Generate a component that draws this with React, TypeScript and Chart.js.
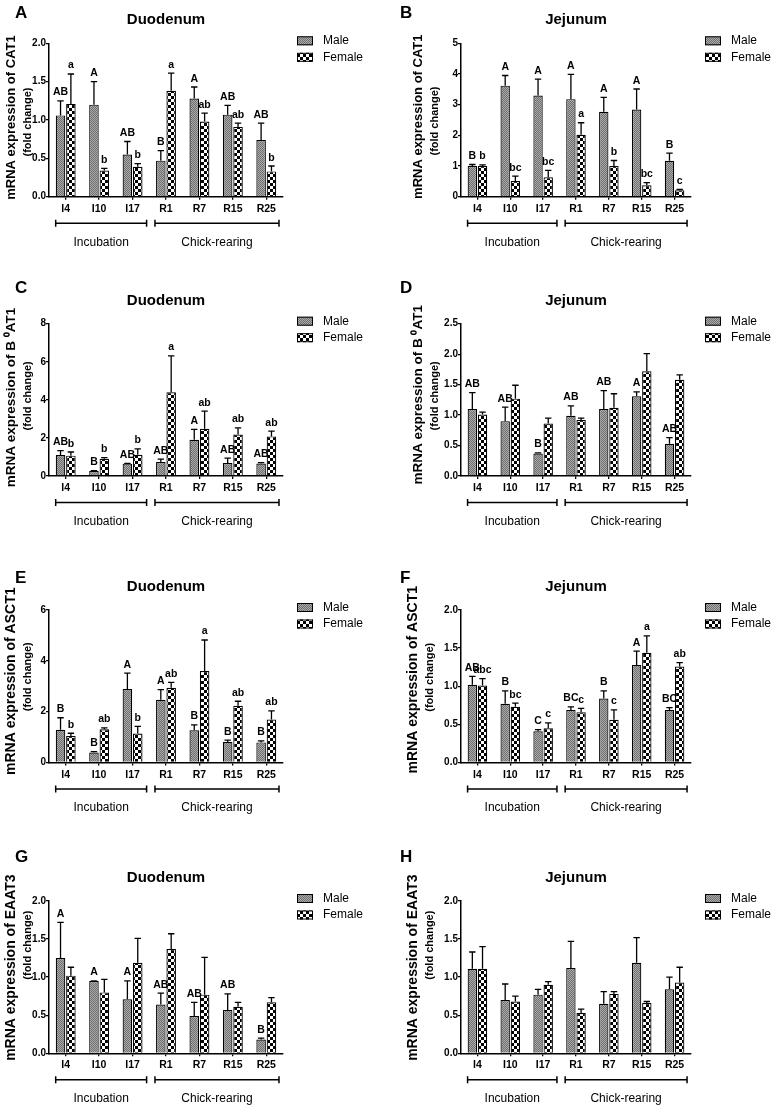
import React, { useEffect, useRef } from "react";
import { Chart, registerables } from "chart.js";

Chart.register(...registerables);

const FONT = '"Liberation Sans", Arial, Helvetica, sans-serif';

// ---------- categories / labels ----------
const categories = ["I4", "I10", "I17", "R1", "R7", "R15", "R25"];
const seriesNames = ["Male", "Female"];
const groupNames = ["Incubation", "Chick-rearing"];
const groupStart = [0, 3];
const groupEnd = [2, 6];

const panelLetters = ["A", "B", "C", "D", "E", "F", "G", "H"];
const panelTitles = ["Duodenum", "Jejunum", "Duodenum", "Jejunum", "Duodenum", "Jejunum", "Duodenum", "Jejunum"];
const yTitles = [
  "mRNA expression of CAT1",
  "mRNA expression of CAT1",
  "mRNA expression of B ⁰AT1",
  "mRNA expression of B ⁰AT1",
  "mRNA expression of ASCT1",
  "mRNA expression of ASCT1",
  "mRNA expression of EAAT3",
  "mRNA expression of EAAT3",
];
const yTitleLine2 = "(fold change)";
const yMaxes = [2, 5, 8, 2.5, 6, 2, 2, 2];
const ySteps = [0.5, 1, 2, 0.5, 2, 0.5, 0.5, 0.5];
const yDecimals = [1, 0, 0, 1, 0, 1, 1, 1];

// ---------- A: Duodenum CAT1 ----------
const aMale = [1.06, 1.2, 0.55, 0.47, 1.28, 1.07, 0.74];
const aMaleUpper = [1.25, 1.5, 0.72, 0.6, 1.43, 1.19, 0.96];
const aFemale = [1.21, 0.34, 0.39, 1.38, 0.98, 0.91, 0.33];
const aFemaleUpper = [1.6, 0.37, 0.43, 1.61, 1.09, 0.96, 0.4];
const aMaleLetters = ["AB", "A", "AB", "B", "A", "AB", "AB"];
const aFemaleLetters = ["a", "b", "b", "a", "ab", "ab", "b"];

// ---------- B: Jejunum CAT1 ----------
const bMale = [1.0, 3.62, 3.3, 3.18, 2.77, 2.84, 1.17];
const bMaleUpper = [1.05, 3.95, 3.83, 3.99, 3.24, 3.51, 1.42];
const bFemale = [1.0, 0.51, 0.63, 2.02, 1.0, 0.37, 0.21];
const bFemaleUpper = [1.04, 0.67, 0.86, 2.41, 1.18, 0.46, 0.24];
const bMaleLetters = ["B", "A", "A", "A", "A", "A", "B"];
const bFemaleLetters = ["b", "bc", "bc", "a", "b", "bc", "c"];

// ---------- C: Duodenum B0AT1 ----------
const cMale = [1.1, 0.26, 0.65, 0.73, 1.9, 0.68, 0.66];
const cMaleUpper = [1.33, 0.28, 0.66, 0.89, 2.45, 0.94, 0.7];
const cFemale = [1.07, 0.91, 1.12, 4.4, 2.48, 2.18, 2.08];
const cFemaleUpper = [1.26, 0.96, 1.43, 6.31, 3.41, 2.53, 2.36];
const cMaleLetters = ["AB", "B", "AB", "AB", "A", "AB", "AB"];
const cFemaleLetters = ["b", "b", "b", "a", "ab", "ab", "ab"];

// ---------- D: Jejunum B0AT1 ----------
const dMale = [1.1, 0.9, 0.37, 0.99, 1.1, 1.31, 0.53];
const dMaleUpper = [1.37, 1.13, 0.38, 1.15, 1.4, 1.38, 0.63];
const dFemale = [1.01, 1.27, 0.86, 0.92, 1.12, 1.72, 1.58];
const dFemaleUpper = [1.05, 1.49, 0.95, 0.95, 1.35, 2.01, 1.66];
const dMaleLetters = ["AB", "AB", "B", "AB", "AB", "A", "AB"];
const dFemaleLetters = ["", "", "", "", "", "", ""];

// ---------- E: Duodenum ASCT1 ----------
const eMale = [1.29, 0.39, 2.89, 2.47, 1.27, 0.81, 0.79];
const eMaleUpper = [1.76, 0.43, 3.52, 2.87, 1.48, 0.88, 0.85];
const eFemale = [1.04, 1.31, 1.14, 2.94, 3.6, 2.23, 1.69];
const eFemaleUpper = [1.15, 1.36, 1.42, 3.15, 4.82, 2.41, 2.03];
const eMaleLetters = ["B", "B", "A", "A", "B", "B", "B"];
const eFemaleLetters = ["b", "ab", "b", "ab", "a", "ab", "ab"];

// ---------- F: Jejunum ASCT1 ----------
const fMale = [1.02, 0.77, 0.41, 0.69, 0.84, 1.28, 0.69];
const fMaleUpper = [1.13, 0.94, 0.43, 0.73, 0.94, 1.46, 0.72];
const fFemale = [1.01, 0.73, 0.45, 0.66, 0.56, 1.44, 1.26];
const fFemaleUpper = [1.1, 0.78, 0.52, 0.71, 0.69, 1.66, 1.31];
const fMaleLetters = ["AB", "B", "C", "BC", "B", "A", "BC"];
const fFemaleLetters = ["abc", "bc", "c", "c", "c", "a", "ab"];

// ---------- G: Duodenum EAAT3 ----------
const gMale = [1.25, 0.95, 0.71, 0.64, 0.49, 0.57, 0.18];
const gMaleUpper = [1.72, 0.95, 0.95, 0.79, 0.67, 0.78, 0.2];
const gFemale = [1.02, 0.8, 1.19, 1.37, 0.77, 0.61, 0.67];
const gFemaleUpper = [1.13, 0.97, 1.51, 1.57, 1.26, 0.67, 0.73];
const gMaleLetters = ["A", "A", "A", "AB", "AB", "AB", "B"];
const gFemaleLetters = ["", "", "", "", "", "", ""];

// ---------- H: Jejunum EAAT3 ----------
const hMale = [1.11, 0.7, 0.77, 1.12, 0.65, 1.19, 0.84];
const hMaleUpper = [1.33, 0.91, 0.84, 1.47, 0.81, 1.52, 1.0];
const hFemale = [1.11, 0.68, 0.9, 0.53, 0.78, 0.66, 0.93];
const hFemaleUpper = [1.4, 0.75, 0.94, 0.58, 0.81, 0.68, 1.13];
const hMaleLetters = ["", "", "", "", "", "", ""];
const hFemaleLetters = ["", "", "", "", "", "", ""];

type PanelData = {
  male: number[];
  maleUpper: number[];
  female: number[];
  femaleUpper: number[];
  maleLetters: string[];
  femaleLetters: string[];
};

const panelData: PanelData[] = [
  { male: aMale, maleUpper: aMaleUpper, female: aFemale, femaleUpper: aFemaleUpper, maleLetters: aMaleLetters, femaleLetters: aFemaleLetters },
  { male: bMale, maleUpper: bMaleUpper, female: bFemale, femaleUpper: bFemaleUpper, maleLetters: bMaleLetters, femaleLetters: bFemaleLetters },
  { male: cMale, maleUpper: cMaleUpper, female: cFemale, femaleUpper: cFemaleUpper, maleLetters: cMaleLetters, femaleLetters: cFemaleLetters },
  { male: dMale, maleUpper: dMaleUpper, female: dFemale, femaleUpper: dFemaleUpper, maleLetters: dMaleLetters, femaleLetters: dFemaleLetters },
  { male: eMale, maleUpper: eMaleUpper, female: eFemale, femaleUpper: eFemaleUpper, maleLetters: eMaleLetters, femaleLetters: eFemaleLetters },
  { male: fMale, maleUpper: fMaleUpper, female: fFemale, femaleUpper: fFemaleUpper, maleLetters: fMaleLetters, femaleLetters: fFemaleLetters },
  { male: gMale, maleUpper: gMaleUpper, female: gFemale, femaleUpper: gFemaleUpper, maleLetters: gMaleLetters, femaleLetters: gFemaleLetters },
  { male: hMale, maleUpper: hMaleUpper, female: hFemale, femaleUpper: hFemaleUpper, maleLetters: hMaleLetters, femaleLetters: hFemaleLetters },
];

// ---------- layout (styles) ----------
const X_H = 20;
const ROWS = [
  { top: 0, height: 275, plotTop: 43.3, plotBottom: 196.7, letterY: 13.5 },
  { top: 275, height: 280, plotTop: 323.7, plotBottom: 476, letterY: 288 },
  { top: 555, height: 275, plotTop: 610, plotBottom: 762.5, letterY: 578 },
  { top: 830, height: 280, plotTop: 901, plotBottom: 1053.3, letterY: 857 },
];
const COLS = [
  { left: 0, width: 385, plotLeft: 49, plotRight: 283 },
  { left: 385, width: 390, plotLeft: 461, plotRight: 691 },
];
// [x of line 1, x of line 2] in canvas coords
const Y_TITLE_X = [
  [11.2, 27.5],
  [33, 50],
  [11.2, 27.5],
  [33, 50],
  [11.2, 27.5],
  [28, 45],
  [11.2, 27.5],
  [28, 45],
];
// vertical offset of each line's centre from the plot centre
const Y_TITLE_DY = [
  [-2.5, 2],
  [-3.3, 1],
  [-2.3, -4],
  [-5, -4],
  [-5, -9.5],
  [-6.5, -9],
  [-9.5, -32],
  [-9.5, -32],
];
const Y_TITLE_SIZE = [13, 13, 13.5, 13.5, 14, 14, 14, 14];
const BRACKET_INSET = [
  [0.2, 0.08],
  [0.17, 0.12],
];

function makePatterns(ctx: CanvasRenderingContext2D) {
  const m = document.createElement("canvas");
  m.width = 2;
  m.height = 2;
  const mg = m.getContext("2d")!;
  mg.fillStyle = "#ababab";
  mg.fillRect(0, 0, 2, 2);
  mg.fillStyle = "#6f6f6f";
  mg.fillRect(0, 0, 1, 1);
  mg.fillRect(1, 1, 1, 1);

  const f = document.createElement("canvas");
  f.width = 6;
  f.height = 6;
  const fg = f.getContext("2d")!;
  fg.fillStyle = "#000";
  fg.fillRect(0, 0, 6, 6);
  fg.fillStyle = "#fff";
  fg.fillRect(0, 0, 3, 3);
  fg.fillRect(3, 3, 3, 3);

  return [ctx.createPattern(m, "repeat")!, ctx.createPattern(f, "repeat")!];
}

function Panel({ idx }: { idx: number }) {
  const ref = useRef<HTMLCanvasElement>(null);
  const row = ROWS[Math.floor(idx / 2)];
  const col = COLS[idx % 2];

  useEffect(() => {
    const canvas = ref.current!;
    const ctx0 = canvas.getContext("2d")!;
    const pats = makePatterns(ctx0);
    const d = panelData[idx];

    const overlay = {
      id: "overlay" + idx,
      afterDatasetsDraw(chart: any) {
        const ctx = chart.ctx as CanvasRenderingContext2D;
        const ys = chart.scales.y;
        ctx.save();
        const sets: [number[], string[]][] = [
          [d.maleUpper, d.maleLetters],
          [d.femaleUpper, d.femaleLetters],
        ];
        sets.forEach(([upper, letters], di) => {
          const meta = chart.getDatasetMeta(di);
          meta.data.forEach((el: any, j: number) => {
            const bx = el.x;
            const by = el.y;
            const ty = ys.getPixelForValue(upper[j]);
            ctx.strokeStyle = "#000";
            ctx.lineWidth = 1.3;
            ctx.beginPath();
            ctx.moveTo(bx, by);
            ctx.lineTo(bx, ty);
            ctx.moveTo(bx - 3.2, ty);
            ctx.lineTo(bx + 3.2, ty);
            ctx.stroke();
            const L = letters[j];
            if (L) {
              ctx.fillStyle = "#000";
              ctx.font = `bold 10.5px ${FONT}`;
              ctx.textAlign = "center";
              ctx.textBaseline = "alphabetic";
              ctx.fillText(L, bx, ty - 5.5);
            }
          });
        });
        ctx.restore();
      },
      afterDraw(chart: any) {
        const ctx = chart.ctx as CanvasRenderingContext2D;
        const ca = chart.chartArea;
        const xs = chart.scales.x;
        ctx.save();
        ctx.fillStyle = "#000";
        ctx.strokeStyle = "#000";

        // panel letter
        ctx.font = `bold 17px ${FONT}`;
        ctx.textAlign = "left";
        ctx.textBaseline = "middle";
        ctx.fillText(panelLetters[idx], 15, row.letterY - row.top);

        // title
        ctx.font = `bold 15px ${FONT}`;
        ctx.textAlign = "center";
        ctx.fillText(panelTitles[idx], (ca.left + ca.right) / 2, ca.top - 23);

        // legend
        for (let k = 0; k < 2; k++) {
          const cy = ca.top - 2.5 + k * 16.5;
          const bx = ca.right + 14;
          ctx.fillStyle = pats[k];
          ctx.fillRect(bx, cy - 4.5, 16, 9);
          ctx.lineWidth = 1;
          ctx.strokeStyle = "#000";
          ctx.strokeRect(bx + 0.5, cy - 4, 15, 8);
          ctx.fillStyle = "#000";
          ctx.font = `12px ${FONT}`;
          ctx.textAlign = "left";
          ctx.textBaseline = "middle";
          ctx.fillText(seriesNames[k], ca.right + 40, cy);
        }

        // y-axis title
        const cyT = (ca.top + ca.bottom) / 2;
        const lines: [string, number, number, number][] = [
          [yTitles[idx], Y_TITLE_SIZE[idx], Y_TITLE_X[idx][0], Y_TITLE_DY[idx][0]],
          [yTitleLine2, 11, Y_TITLE_X[idx][1], Y_TITLE_DY[idx][1]],
        ];
        lines.forEach(([t, size, x, dy]) => {
          ctx.save();
          ctx.translate(x, cyT + dy);
          ctx.rotate(-Math.PI / 2);
          ctx.font = `bold ${size}px ${FONT}`;
          ctx.textAlign = "center";
          ctx.textBaseline = "middle";
          ctx.fillStyle = "#000";
          ctx.fillText(t, 0, 0);
          ctx.restore();
        });

        // group brackets
        const cw = xs.getPixelForValue(1) - xs.getPixelForValue(0);
        const by = ca.bottom + 26.5;
        for (let g = 0; g < groupNames.length; g++) {
          const x0 = xs.getPixelForValue(groupStart[g]) - cw / 2 + BRACKET_INSET[g][0] * cw;
          const x1 = xs.getPixelForValue(groupEnd[g]) + cw / 2 - BRACKET_INSET[g][1] * cw;
          ctx.lineWidth = 1.5;
          ctx.strokeStyle = "#000";
          ctx.beginPath();
          ctx.moveTo(x0, by);
          ctx.lineTo(x1, by);
          ctx.moveTo(x0, by - 3.5);
          ctx.lineTo(x0, by + 3.5);
          ctx.moveTo(x1, by - 3.5);
          ctx.lineTo(x1, by + 3.5);
          ctx.stroke();
          ctx.font = `12px ${FONT}`;
          ctx.textAlign = "center";
          ctx.textBaseline = "middle";
          ctx.fillStyle = "#000";
          ctx.fillText(groupNames[g], (x0 + x1) / 2, by + 19);
        }
        ctx.restore();
      },
    };

    const chart = new Chart(canvas, {
      type: "bar",
      data: {
        labels: categories,
        datasets: [
          {
            label: seriesNames[0],
            data: d.male,
            backgroundColor: pats[0],
            borderColor: "#000",
            borderWidth: 1.2,
            categoryPercentage: 0.62,
            barPercentage: 0.92,
          },
          {
            label: seriesNames[1],
            data: d.female,
            backgroundColor: pats[1],
            borderColor: "#000",
            borderWidth: 1.2,
            categoryPercentage: 0.62,
            barPercentage: 0.92,
          },
        ],
      },
      options: {
        responsive: false,
        maintainAspectRatio: false,
        animation: false,
        events: [],
        layout: {
          padding: {
            left: 0,
            top: row.plotTop - row.top,
            right: col.left + col.width - col.plotRight,
            bottom: row.top + row.height - row.plotBottom - X_H,
          },
        },
        plugins: {
          legend: { display: false },
          title: { display: false },
          tooltip: { enabled: false },
        },
        scales: {
          x: {
            type: "category",
            offset: true,
            grid: {
              display: true,
              offset: false,
              drawOnChartArea: false,
              drawTicks: true,
              tickLength: 3,
              color: "#000",
              lineWidth: 1.3,
            },
            border: { display: true, color: "#000", width: 1.5 },
            ticks: {
              color: "#000",
              font: { family: FONT, size: 10.5, weight: "bold" },
              padding: 3,
              maxRotation: 0,
              autoSkip: false,
            },
            afterFit: (s: any) => {
              s.height = X_H;
            },
          },
          y: {
            min: 0,
            max: yMaxes[idx],
            grid: {
              display: true,
              drawOnChartArea: false,
              drawTicks: true,
              tickLength: 3,
              color: "#000",
              lineWidth: 1.3,
            },
            border: { display: true, color: "#000", width: 1.5 },
            ticks: {
              stepSize: ySteps[idx],
              color: "#000",
              font: { family: FONT, size: 10, weight: "bold" },
              padding: 0,
              callback: (v: any) => Number(v).toFixed(yDecimals[idx]),
            },
            afterFit: (s: any) => {
              s.width = col.plotLeft - col.left;
            },
          },
        },
      } as any,
      plugins: [overlay as any],
    });
    return () => chart.destroy();
  }, [idx]);

  return (
    <canvas
      ref={ref}
      width={col.width}
      height={row.height}
      style={{
        position: "absolute",
        left: col.left,
        top: row.top,
        width: col.width,
        height: row.height,
      }}
    />
  );
}

export default function App() {
  return (
    <div
      style={{
        position: "absolute",
        left: 0,
        top: 0,
        width: 775,
        height: 1110,
        background: "#fff",
        overflow: "hidden",
      }}
    >
      {panelLetters.map((_, i) => (
        <Panel key={i} idx={i} />
      ))}
    </div>
  );
}
